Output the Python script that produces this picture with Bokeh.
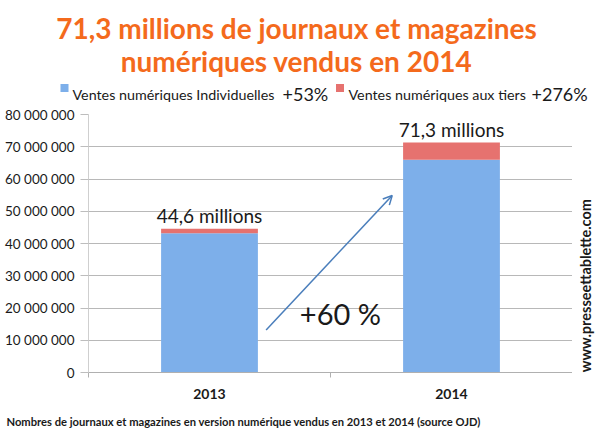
from bokeh.plotting import figure
from bokeh.layouts import column, row
from bokeh.models import (Range1d, FixedTicker, Label, LabelSet, Arrow, OpenHead,
                          ColumnDataSource)
from bokeh.embed import file_html
from bokeh.resources import INLINE
from bokeh.core.properties import value

# ---------------- data ----------------
years = ["2013", "2014"]
year_pos = [0, 1]
individuelles = [43_200_000, 66_000_000]
tiers = [1_400_000, 5_300_000]
total_labels = ["44,6 millions", "71,3 millions"]
y_ticks = [0, 10_000_000, 20_000_000, 30_000_000, 40_000_000,
           50_000_000, 60_000_000, 70_000_000, 80_000_000]
y_tick_labels = ["0", "10 000 000", "20 000 000", "30 000 000", "40 000 000",
                 "50 000 000", "60 000 000", "70 000 000", "80 000 000"]
series_names = ["Ventes numériques Individuelles", "Ventes numériques aux tiers"]
series_growth = ["+53%", "+276%"]
title_lines = ["71,3 millions de journaux et magazines",
               "numériques vendus en 2014"]
total_growth = "+60 %"
caption = ("Nombres de journaux et magazines en version numérique vendus "
           "en 2013 et 2014 (source OJD)")
site = "www.presseettablette.com"

# arrow showing the growth (data coordinates)
arrow_x = [0.234, 0.755]
arrow_y = [13_200_000, 54_900_000]
growth_label_pos = (0.541, 18_150_000)

# ---------------- style ----------------
FONT = "Lato"
ORANGE = "#F46A1C"
BLUE = "#7DAFEA"
RED = "#E6726F"
GRID = "#b8b8b8"
TXT = "#1a1a1a"


def blank(w, h):
    f = figure(width=w, height=h, output_backend="svg", toolbar_location=None,
               x_range=Range1d(0, w), y_range=Range1d(h, 0), title=None,
               x_axis_location=None, y_axis_location=None, min_border=0)
    f.grid.visible = False
    f.outline_line_color = None
    f.background_fill_color = "white"
    f.border_fill_color = "white"
    return f


# ---------------- header: title + legend ----------------
HW, HH = 595, 105
head = blank(HW, HH)
for txt, yy in zip(title_lines, [27, 60]):
    head.add_layout(Label(x=296, y=yy, text=txt, text_align="center",
                          text_baseline="alphabetic", text_font=FONT,
                          text_font_style="bold", text_font_size="28px",
                          text_color=ORANGE))
leg_sq_x = [64, 339.5]
leg_txt_x = [72, 348]
leg_pct_x = [282, 531]
head.scatter(x=leg_sq_x, y=[87.5, 87.5], marker="square", size=8,
             fill_color=[BLUE, RED], line_color=None)
for name, pct, tx, px in zip(series_names, series_growth, leg_txt_x, leg_pct_x):
    head.add_layout(Label(x=tx, y=93.5, text=name, text_baseline="alphabetic",
                          text_font=FONT, text_font_size="14.3px", text_color=TXT))
    head.add_layout(Label(x=px, y=93.5, text=pct, text_baseline="alphabetic",
                          text_font=FONT, text_font_size="18px", text_color=TXT))

# ---------------- main chart ----------------
MW, MH = 572, 300
p = figure(width=MW, height=MH, output_backend="svg", toolbar_location=None,
           x_range=Range1d(-0.5, 1.5), y_range=Range1d(0, 80_000_000), title=None,
           min_border_left=88, min_border_right=0, min_border_top=9,
           min_border_bottom=33)
p.outline_line_color = None
p.background_fill_color = "white"
p.border_fill_color = "white"

totals = [a + b for a, b in zip(individuelles, tiers)]
src = ColumnDataSource(dict(x=year_pos, ind=individuelles, tiers=tiers,
                            total=totals, lab=total_labels))
p.vbar_stack(["ind", "tiers"], x="x", width=0.4, source=src,
             fill_color=[BLUE, RED], line_color=None)

p.yaxis.ticker = FixedTicker(ticks=y_ticks)
p.yaxis.major_label_overrides = {t: l for t, l in zip(y_ticks, y_tick_labels)}
p.yaxis.major_label_text_font = FONT
p.yaxis.major_label_text_font_size = "13.5px"
p.yaxis.major_label_text_color = TXT
p.yaxis.major_label_standoff = 6
p.yaxis.axis_line_color = "#cfcfcf"
p.yaxis.major_tick_line_color = "#bdbdbd"
p.yaxis.major_tick_out = 8
p.yaxis.major_tick_in = 0
p.yaxis.minor_tick_line_color = None
p.ygrid.ticker = FixedTicker(ticks=y_ticks)
p.ygrid.grid_line_color = GRID
p.xgrid.grid_line_color = None

p.xaxis.ticker = FixedTicker(ticks=year_pos, minor_ticks=[-0.5, 0.5, 1.5])
p.xaxis.major_label_overrides = {t: l for t, l in zip(year_pos, years)}
p.xaxis.major_label_text_font = FONT
p.xaxis.major_label_text_font_style = "bold"
p.xaxis.major_label_text_font_size = "14px"
p.xaxis.major_label_text_color = TXT
p.xaxis.major_label_standoff = 11
p.xaxis.major_tick_out = 0
p.xaxis.major_tick_in = 0
p.xaxis.minor_tick_out = 5
p.xaxis.minor_tick_in = 0
p.xaxis.minor_tick_line_color = "#b0b0b0"
p.xaxis.axis_line_color = "#b0b0b0"

p.add_layout(LabelSet(x="x", y="total", text="lab", source=src, y_offset=6,
                      text_align="center", text_baseline="alphabetic",
                      text_font=value(FONT), text_font_size="19px",
                      text_color=TXT))

p.add_layout(Arrow(end=OpenHead(size=9, line_color="#4A7EBB", line_width=1.5),
                   x_start=arrow_x[0], y_start=arrow_y[0],
                   x_end=arrow_x[1], y_end=arrow_y[1],
                   line_color="#4A7EBB", line_width=1.5))
p.add_layout(Label(x=growth_label_pos[0], y=growth_label_pos[1], text=total_growth,
                   text_align="center", text_baseline="alphabetic",
                   text_font=FONT, text_font_size="29px", text_color=TXT))

# ---------------- right strip: site name ----------------
side = blank(595 - MW, MH)
side.add_layout(Label(x=13, y=199, text=site, angle=90, angle_units="deg",
                      text_align="center", text_baseline="middle", text_font=FONT,
                      text_font_style="bold", text_font_size="14.5px",
                      text_color=TXT))

# ---------------- footer: caption ----------------
foot = blank(595, 429 - HH - MH)
foot.add_layout(Label(x=6, y=16, text=caption, text_baseline="alphabetic",
                      text_font=FONT, text_font_style="bold",
                      text_font_size="11.2px", text_color=TXT))

layout = column(head, row(p, side), foot)
open("out.html", "w").write(file_html(layout, INLINE))
